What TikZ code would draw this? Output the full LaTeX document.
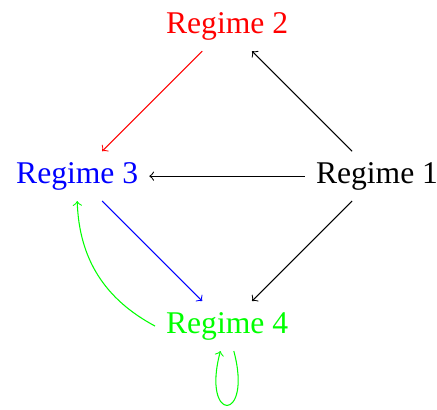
\documentclass[tikz,border=0pt,12pt]{standalone}
\usepackage{fontspec}
\setmainfont{Liberation Serif}
\begin{document}
\begin{tikzpicture}[>=to]
    \useasboundingbox (-3.03,-3.11) rectangle (2.8,2.35);
    % Regimes
    \node (r1) at (2,0) {Regime 1};
    \node[red] (r2) at (0,2) {Regime 2};
    \node[blue] (r3) at (-2,0) {Regime 3};
    \node[green] (r4) at (0,-2) {Regime 4};
    
    % Transitions out of regime 1
    \draw[->] (r1) -- (r2);
    \draw[->] (r1) -- (r3);
    \draw[->] (r1) -- (r4);
    
    % Other transitions
    \draw[red, ->] (r2) -- (r3);
    \draw[blue, ->] (r3) -- (r4);
    \draw[green, ->] (r4.west) to[bend left] (r3.south);
    \draw[green, ->] (r4) to[loop below, min distance=1cm] (r4);
\end{tikzpicture}
\end{document}
